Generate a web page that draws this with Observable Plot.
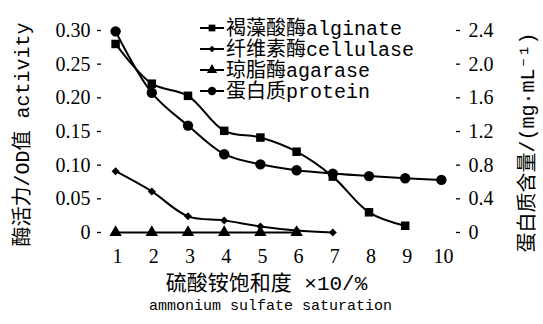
<!DOCTYPE html>
<html>
<head>
<meta charset="utf-8">
<script src="https://cdn.jsdelivr.net/npm/d3@7"></script>
<script src="https://cdn.jsdelivr.net/npm/@observablehq/plot@0.6"></script>
<style>
  body { margin: 0; background: #fff; }
  #chart { width: 543px; height: 324px; }
</style>
</head>
<body>
<div id="chart"></div>
<script>
// Ammonium sulfate saturation (×10%)
const saturation = [1, 2, 3, 4, 5, 6, 7, 8, 9, 10];

// Enzyme activity (OD) — left axis
const alginate  = [0.280, 0.221, 0.203, 0.151, 0.141, 0.120, 0.083, 0.030, 0.010];
const cellulase = [0.091, 0.061, 0.024, 0.018, 0.009, 0.003, 0.000];
const agarase   = [0, 0, 0, 0, 0, 0];

// Protein content (mg·mL⁻¹) — right axis
const protein = [2.39, 1.66, 1.27, 0.93, 0.81, 0.74, 0.70, 0.67, 0.645, 0.625];

// Tick values
const activityTicks = [0, 0.05, 0.10, 0.15, 0.20, 0.25, 0.30];
const proteinTicks  = [0, 0.4, 0.8, 1.2, 1.6, 2.0, 2.4];

// Series names and marker symbols
const seriesNames = ["褐藻酸酶alginate", "纤维素酶cellulase", "琼脂酶agarase", "蛋白质protein"];
const seriesSymbols = ["square", "diamond2", "triangle", "circle"];

// Protein is drawn on the activity scale, rescaled by the ratio of the axis maxima
const ratio = proteinTicks[proteinTicks.length - 1] / activityTicks[activityTicks.length - 1];

const series = [
  {name: seriesNames[0], symbol: seriesSymbols[0], r: 4.8, rows: alginate.map((v, i) => ({x: saturation[i], y: v}))},
  {name: seriesNames[1], symbol: seriesSymbols[1], r: 3.6, rows: cellulase.map((v, i) => ({x: saturation[i], y: v}))},
  {name: seriesNames[2], symbol: seriesSymbols[2], r: 4.6, rows: agarase.map((v, i) => ({x: saturation[i], y: v}))},
  {name: seriesNames[3], symbol: seriesSymbols[3], r: 5.2, rows: protein.map((v, i) => ({x: saturation[i], y: v / ratio}))}
];

const mixedFont = "'Liberation Mono', 'Noto Sans CJK SC', monospace";
const numFont = "'Liberation Serif', serif";

const marks = [];
for (const s of series) {
  marks.push(Plot.line(s.rows, {x: "x", y: "y", curve: "catmull-rom", stroke: "#000", strokeWidth: 2}));
}
for (const s of series) {
  marks.push(Plot.dot(s.rows, {x: "x", y: "y", symbol: () => s.symbol, r: s.r, fill: "#000", stroke: "none"}));
}

const plot = Plot.plot({
  width: 543,
  height: 324,
  marginLeft: 97,
  marginRight: 84,
  marginTop: 30,
  marginBottom: 92,
  style: {fontFamily: numFont, fontSize: "20px", color: "#000", background: "#fff", overflow: "visible"},
  x: {domain: [0.5, 10.5]},
  y: {domain: [0, 0.30]},
  symbol: {type: "identity"},
  marks: [
    Plot.axisX(saturation, {tickSize: 0, tickPadding: 16, line: true, label: null, strokeWidth: 1.3, dx: 2, fontSize: 20}),
    Plot.axisY(activityTicks, {
      anchor: "left", tickSize: -4, tickPadding: 11, line: true, label: null, strokeWidth: 1.3, fontSize: 20,
      tickFormat: d => d === 0 ? "0" : d.toFixed(2)
    }),
    Plot.axisY(proteinTicks.map(v => v / ratio), {
      anchor: "right", tickSize: -4, tickPadding: 13, line: true, label: null, strokeWidth: 1.3, fontSize: 20,
      tickFormat: d => { const v = Math.round(d * ratio * 10) / 10; return v === 0 ? "0" : v.toFixed(1); }
    }),
    ...marks,
    Plot.text(["酶活力/OD值 activity"], {
      text: d => d, frameAnchor: "left", textAnchor: "middle", lineAnchor: "middle", rotate: -90, dx: -75, dy: 3,
      fontSize: 20, fontFamily: mixedFont, fill: "#000"
    }),
    Plot.text(["蛋白质含量/(mg·mL⁻¹)"], {
      text: d => d, frameAnchor: "right", textAnchor: "middle", lineAnchor: "middle", rotate: -90, dx: 68, dy: 11,
      fontSize: 20, fontFamily: mixedFont, fill: "#000"
    }),
    Plot.text(["硫酸铵饱和度 ×10/%"], {
      text: d => d, frameAnchor: "bottom", textAnchor: "middle", lineAnchor: "middle", dx: -12, dy: 51,
      fontSize: 21, fontFamily: mixedFont, fill: "#000"
    }),
    Plot.text(["ammonium sulfate saturation"], {
      text: d => d, frameAnchor: "bottom", textAnchor: "middle", lineAnchor: "middle", dx: -8, dy: 73,
      fontSize: 15, fontFamily: mixedFont, fill: "#000"
    })
  ]
});

document.getElementById("chart").appendChild(plot);

// Legend inside the plot area: line sample with marker, then the series name
const symbolTypes = {square: d3.symbolSquare, diamond2: d3.symbolDiamond2, triangle: d3.symbolTriangle, circle: d3.symbolCircle};
const legendRadius = [3.8, 3.0, 3.8, 4.2];
const legend = d3.select(plot).append("g")
  .attr("font-family", mixedFont)
  .attr("font-size", 20)
  .attr("text-anchor", "start")
  .attr("fill", "#000");
series.forEach((s, i) => {
  const y = 28 + 21 * i;
  legend.append("line")
    .attr("x1", 200).attr("x2", 224).attr("y1", y).attr("y2", y)
    .attr("stroke", "#000").attr("stroke-width", 2);
  legend.append("path")
    .attr("d", d3.symbol(symbolTypes[s.symbol], Math.PI * legendRadius[i] ** 2)())
    .attr("transform", `translate(212,${y})`);
  legend.append("text")
    .attr("x", 226).attr("y", y).attr("dy", "0.35em")
    .text(s.name);
});
</script>
</body>
</html>
